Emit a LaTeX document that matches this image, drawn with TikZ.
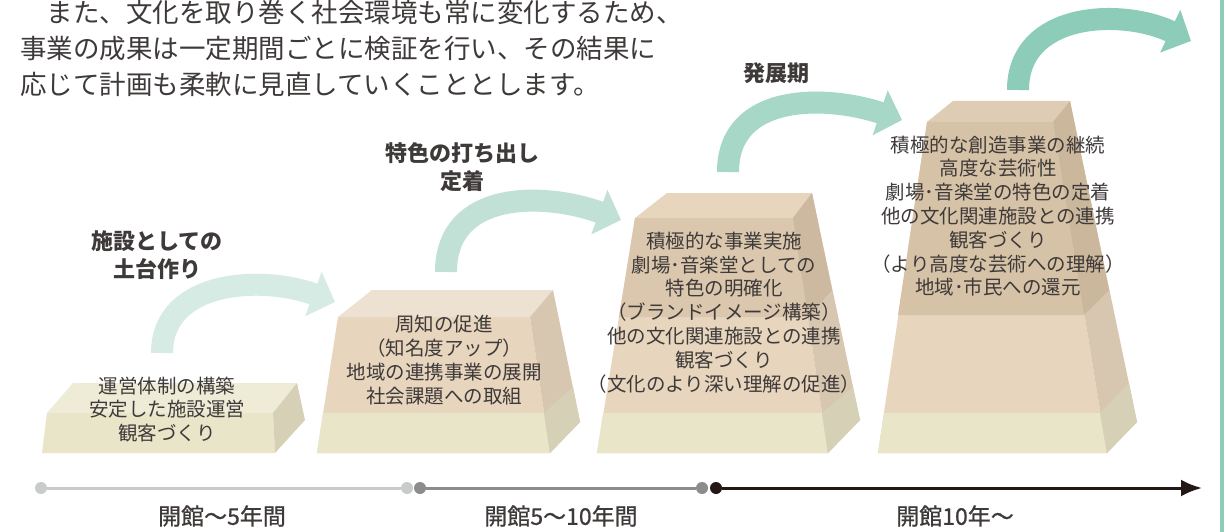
\documentclass[tikz,border=0pt]{standalone}
\usepackage{fontspec}
\newfontfamily\jp{Noto Sans CJK JP}
\newfontfamily\jpmed[FakeBold=0.8]{Noto Sans CJK JP}
\usetikzlibrary{arrows.meta}

\definecolor{ink}{HTML}{3E3A39}
\definecolor{cream}{HTML}{E9E5C9}
\definecolor{creamtop}{HTML}{EEEBD7}
\definecolor{creamside}{HTML}{D6D1B6}
\definecolor{tan}{HTML}{E7D5BE}
\definecolor{tantop}{HTML}{EDE2D1}
\definecolor{tanside}{HTML}{D8C7B0}
\definecolor{tandark}{HTML}{DAC7AD}
\definecolor{tandarkside}{HTML}{CDB9A0}
\definecolor{tandeep}{HTML}{D6C2A6}
\definecolor{tandeepside}{HTML}{CBB79C}
\definecolor{flowA}{HTML}{D6EBE3}
\definecolor{flowB}{HTML}{C1E1D6}
\definecolor{flowC}{HTML}{A7D7C6}
\definecolor{flowD}{HTML}{8CCCB8}
\definecolor{lineA}{HTML}{C9CACA}
\definecolor{lineB}{HTML}{8C8C8C}
\definecolor{lineC}{HTML}{231815}

\begin{document}
\begin{tikzpicture}[x=1pt, y=-1pt, >={Latex[length=21pt,width=17pt]},
  lead/.style={font=\jp\fontsize{26.5}{36}\selectfont, text=ink, align=left, anchor=west, inner sep=0},
  stage/.style={font=\jp\bfseries\fontsize{22}{28}\selectfont, text=ink, align=center, inner sep=0},
  body/.style={font=\jp\fontsize{19.5}{23.8}\selectfont, text=ink, align=center, inner sep=0},
  period/.style={font=\jpmed\fontsize{23}{23}\selectfont, text=ink, inner sep=0},
  flow/.style={line width=22, -{Triangle[length=23pt,width=46pt]}},
  dot/.style={circle, inner sep=0, minimum size=12}]
\useasboundingbox (0,0) rectangle (1226,532);
\fill[white] (0,0) rectangle (1226,532);

% lead text
\node[lead] (intro) at (20,48) {　また、文化を取り巻く社会環境も常に変化するため、\\事業の成果は一定期間ごとに検証を行い、その結果に\\応じて計画も柔軟に見直していくこととします。};

% block 1
\fill[cream] (42,453) -- (47,413) -- (273,413) -- (275,453) -- cycle;
\fill[creamtop] (47,413) -- (73,383) -- (297,383) -- (273,413) -- cycle;
\fill[creamside] (273,413) -- (297,383) -- (305,420) -- (275,453) -- cycle;

% block 2
\fill[tan] (317,453) -- (338,317) -- (530,317) -- (550,453) -- cycle;
\fill[cream] (317,453) -- (323,413) -- (544,413) -- (550,453) -- cycle;
\fill[tantop] (338,317) -- (372,290) -- (553,290) -- (530,317) -- cycle;
\fill[tanside] (530,317) -- (553,290) -- (580,422) -- (550,453) -- cycle;
\fill[creamside] (544,413) -- (573,387) -- (580,422) -- (550,453) -- cycle;

% block 3
\fill[tan] (597,453) -- (635,218) -- (793,218) -- (828,453) -- cycle;
\fill[tandark] (619,317) -- (635,218) -- (793,218) -- (808,317) -- cycle;
\fill[cream] (597,453) -- (603,413) -- (822,413) -- (828,453) -- cycle;
\fill[tantop!95!black!5!tan] (635,218) -- (667,193) -- (812,193) -- (793,218) -- cycle;
\fill[tanside] (793,218) -- (812,193) -- (860,420) -- (828,453) -- cycle;
\fill[tandarkside] (793,218) -- (812,193) -- (832,290) -- (808,317) -- cycle;
\fill[creamside] (822,413) -- (853,387) -- (860,420) -- (828,453) -- cycle;

% block 4
\fill[tan] (878,453) -- (927,122) -- (1053,122) -- (1107,453) -- cycle;
\fill[tandeep] (898,315) -- (927,122) -- (1053,122) -- (1084,315) -- cycle;
\fill[cream] (878,453) -- (884,413) -- (1100,413) -- (1107,453) -- cycle;
\fill[tandark!80!tantop] (927,122) -- (953,101) -- (1070,101) -- (1053,122) -- cycle;
\fill[tanside] (1053,122) -- (1070,101) -- (1137,422) -- (1107,453) -- cycle;
\fill[tandeepside] (1053,122) -- (1070,101) -- (1109,290) -- (1084,315) -- cycle;
\fill[creamside] (1100,413) -- (1129,383) -- (1137,422) -- (1107,453) -- cycle;

% block texts
\node[body] (b1) at (167,409.5) {運営体制の構築\\安定した施設運営\\観客づくり};
\node[body] (b2) at (444,360) {周知の促進\\（知名度アップ）\\地域の連携事業の展開\\社会課題への取組};
\node[body] (b3) at (724,312.5) {積極的な事業実施\\劇場･音楽堂としての\\特色の明確化\\（ブランドイメージ構築）\\他の文化関連施設との連携\\観客づくり\\（文化のより深い理解の促進）};
\node[body] (b4) at (998,216) {積極的な創造事業の継続\\高度な芸術性\\劇場･音楽堂の特色の定着\\他の文化関連施設との連携\\観客づくり\\（より高度な芸術への理解）\\地域･市民への還元};

% stage titles
\node[stage] (s1) at (157,255) {施設としての\\土台作り};
\node[stage] (s2) at (462,167.5) {特色の打ち出し\\定着};
\node[stage] (s3) at (776,73) {発展期};

% curved arrows
\coordinate (up1) at (162,353);
\coordinate (in2) at (335,302);
\coordinate (up2) at (446,272);
\coordinate (in3) at (621,220);
\coordinate (up3) at (728,172);
\coordinate (in4) at (902,120);
\coordinate (up4) at (1018,90);
\coordinate (out) at (1191,41);
\draw[flow, flowA] (up1) .. controls +(0,-73) and +(-73,-27) .. (in2);
\draw[flow, flowB] (up2) .. controls +(0,-82) and +(-77,-28) .. (in3);
\draw[flow, flowC] (up3) .. controls +(0,-80) and +(-75,-25) .. (in4);
\draw[flow, flowD] (up4) .. controls +(0,-78) and +(-70,-33) .. (out);

% right rule
\draw[line width=3.5, flowD] (1222,0) -- (1222,532);

% time line
\node[dot, fill=lineA] (t1) at (41,488) {};
\node[dot, fill=lineA] (t2) at (407,488) {};
\node[dot, fill=lineB] (t3) at (420,488) {};
\node[dot, fill=lineB] (t4) at (702,488) {};
\node[dot, fill=lineC] (t5) at (716,488) {};
\coordinate (tend) at (1202,488);
\draw[line width=3, lineA] (t1) -- (t2);
\draw[line width=3, lineB] (t3) -- (t4);
\draw[line width=3, lineC, ->] (t5) -- (tend);

\node[period] (p1) at (222,516) {開館～5年間};
\node[period] (p2) at (561,516) {開館5～10年間};
\node[period] (p3) at (955,516) {開館10年～};
\end{tikzpicture}
\end{document}
